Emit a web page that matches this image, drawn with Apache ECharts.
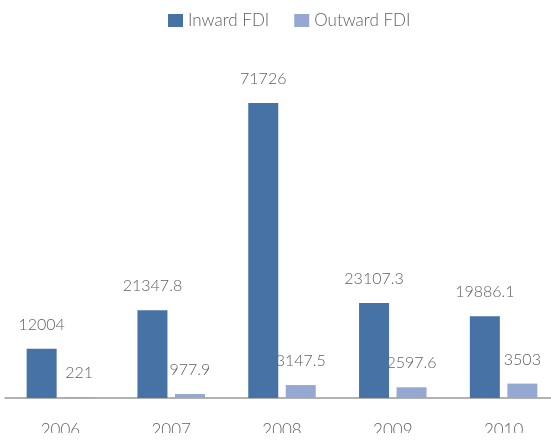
<!DOCTYPE html>
<html>
<head>
<meta charset="utf-8">
<script src="https://cdn.jsdelivr.net/npm/echarts@6/dist/echarts.min.js"></script>
<style>
  html, body { margin: 0; padding: 0; background: #fff; }
  #fdi_chart { width: 551px; height: 441px; }
</style>
</head>
<body>
<div id="fdi_chart"></div>
<script>
var years = ['2006', '2007', '2008', '2009', '2010'];
var inwardFdi = [12004, 21347.8, 71726, 23107.3, 19886.1];
var outwardFdi = [221, 977.9, 3147.5, 2597.6, 3503];

var textColor = '#5f5f5f';
var fontName = 'Lato';

//bar labels sit a bit above each bar, like the excel original
var labelStyle = {
    show: true,
    position: 'top',
    distance: 16,
    color: textColor,
    fontSize: 16,
    fontWeight: 300,
    fontFamily: fontName
};

var option = {
    animation: false,
    legend: {
        top: 7,
        left: 163,
        itemWidth: 15,
        itemHeight: 13,
        itemGap: 25,
        icon: 'rect',
        textStyle: { color: textColor, fontSize: 17, fontWeight: 300, fontFamily: fontName }
    },
    grid: {
        left: 5,
        width: 554,
        top: 69,
        bottom: 43,
        outerBoundsMode: 'none'
    },
    xAxis: {
        type: 'category',
        data: years,
        axisLine: { lineStyle: { color: '#999', width: 1.5 } },
        axisTick: { show: false },
        axisLabel: { margin: 24, color: textColor, fontSize: 17, fontWeight: 300, fontFamily: fontName }
    },
    yAxis: {
        type: 'value',
        min: 0,
        max: 80000,
        show: false,
        splitLine: { show: false }
    },
    series: [{
        name: 'Inward FDI',
        type: 'bar',
        data: inwardFdi,
        barWidth: 30,
        barGap: '25%',
        itemStyle: { color: '#4672a6' },
        label: labelStyle
    }, {
        name: 'Outward FDI',
        type: 'bar',
        data: outwardFdi,
        barWidth: 30,
        itemStyle: { color: '#95a8d2' },
        label: labelStyle
    }],
    //the year labels are cut off at the bottom in the original picture
    graphic: [{
        type: 'rect',
        left: 0,
        bottom: 0,
        z: 100,
        shape: { width: 551, height: 8 },
        style: { fill: '#fff' }
    }]
};
echarts.init(document.getElementById('fdi_chart')).setOption(option);
</script>
</body>
</html>
